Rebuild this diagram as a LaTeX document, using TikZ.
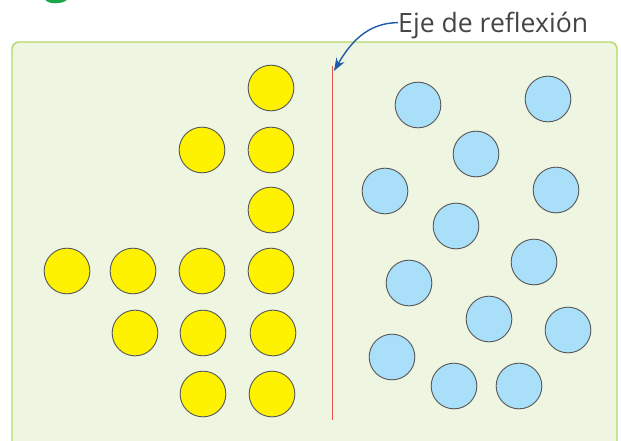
\documentclass[tikz,border=0pt]{standalone}
\usepackage{fontspec}
\setsansfont{Open Sans}
\usetikzlibrary{arrows.meta}
\definecolor{boxfill}{HTML}{EEF5E0}
\definecolor{boxline}{HTML}{B3D86A}
\definecolor{dotyellow}{HTML}{FFF200}
\definecolor{dotblue}{HTML}{AADFF9}
\definecolor{dotline}{HTML}{5A5A5A}
\definecolor{axisred}{HTML}{E8544A}
\definecolor{pointblue}{HTML}{1F5BA8}
\definecolor{headgreen}{HTML}{1AA548}
\definecolor{labelgray}{HTML}{454545}

\begin{document}
\begin{tikzpicture}[x=0.03cm, y=-0.03cm,
  panel/.style={draw=boxline, line width=1.2pt, fill=boxfill, rounded corners=6pt},
  ydot/.style={draw=dotline, line width=0.8pt, circle, fill=dotyellow, minimum size=1.37cm, inner sep=0pt},
  bdot/.style={draw=dotline, line width=0.8pt, circle, fill=dotblue, minimum size=1.37cm, inner sep=0pt},
  axis/.style={axisred, line width=0.8pt},
  pointer/.style={pointblue, line width=1.2pt, -{Stealth[length=11pt, width=8pt]}}
]
\useasboundingbox (0,0) rectangle (621,440);

% Heading letter, cut by the page edge
\node[headgreen, font=\sffamily\bfseries\fontsize{40}{40}\selectfont, anchor=base] (head) at (58,-8) {g};

% Background panel
\draw[panel] (12,42) rectangle (617,470);

% Reflection axis
\coordinate (axisTop) at (332,66);
\coordinate (axisBot) at (332,420);
\draw[axis] (axisTop) -- (axisBot);

% Label and pointer
\node[labelgray, font=\sffamily\fontsize{22.7}{22.7}\selectfont, anchor=base west, inner sep=0pt] (label) at (398,32) {Eje de reflexión};
\coordinate (tip) at (334,71);
\draw[pointer] ([yshift=2pt]label.west) to[out=180, in=60] (tip);

% Yellow dots (left side)
\node[ydot] (Y1) at (271,88) {};
\node[ydot] (Y2) at (202,150) {};
\node[ydot] (Y3) at (271,150) {};
\node[ydot] (Y4) at (271,210) {};
\node[ydot] (Y5) at (67,271) {};
\node[ydot] (Y6) at (133,271) {};
\node[ydot] (Y7) at (202,271) {};
\node[ydot] (Y8) at (271,271) {};
\node[ydot] (Y9) at (135,333) {};
\node[ydot] (Y10) at (203,333) {};
\node[ydot] (Y11) at (273,333) {};
\node[ydot] (Y12) at (203,394) {};
\node[ydot] (Y13) at (272,394) {};

% Blue dots (right side)
\node[bdot] (B1) at (418,105) {};
\node[bdot] (B2) at (548,99) {};
\node[bdot] (B3) at (476,154) {};
\node[bdot] (B4) at (385,191) {};
\node[bdot] (B5) at (556,190) {};
\node[bdot] (B6) at (456,226) {};
\node[bdot] (B7) at (534,262) {};
\node[bdot] (B8) at (409,283) {};
\node[bdot] (B9) at (489,319) {};
\node[bdot] (B10) at (568,330) {};
\node[bdot] (B11) at (392,357) {};
\node[bdot] (B12) at (454,386) {};
\node[bdot] (B13) at (519,386) {};
\end{tikzpicture}
\end{document}
